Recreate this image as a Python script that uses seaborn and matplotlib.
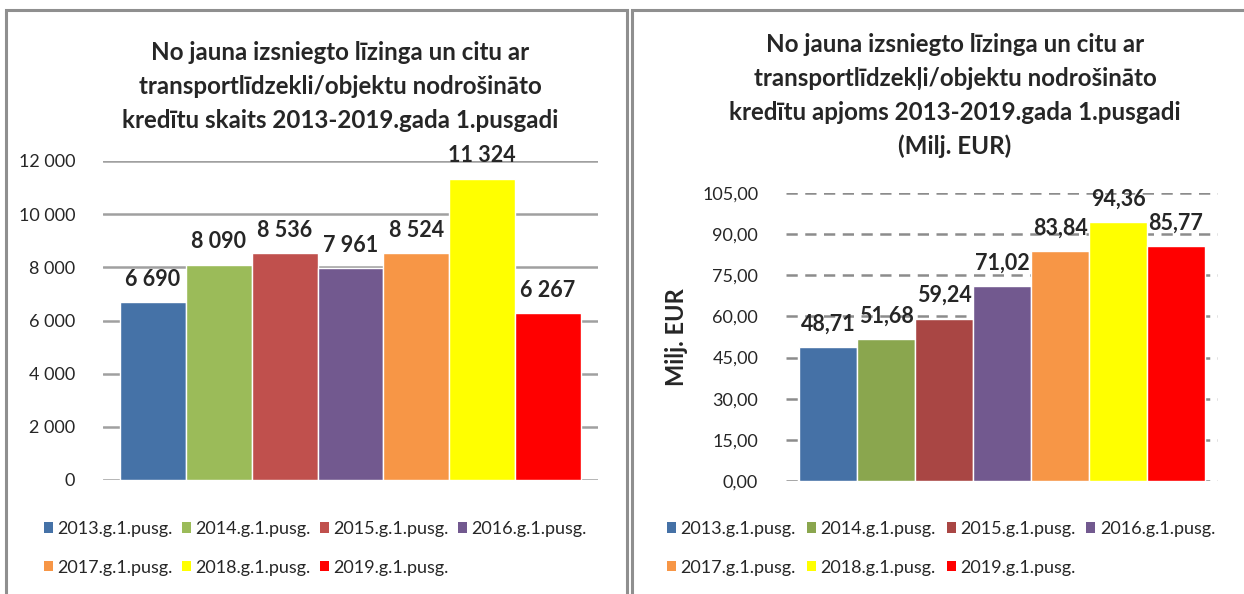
import matplotlib
matplotlib.use("Agg")
import matplotlib.pyplot as plt
from matplotlib.patches import Rectangle, Patch
import seaborn as sns
import pandas as pd

periods = ["2013.g.1.pusg.", "2014.g.1.pusg.", "2015.g.1.pusg.", "2016.g.1.pusg.",
           "2017.g.1.pusg.", "2018.g.1.pusg.", "2019.g.1.pusg."]
counts = [6690, 8090, 8536, 7961, 8524, 11324, 6267]
volumes = [48.71, 51.68, 59.24, 71.02, 83.84, 94.36, 85.77]

colors_left = ["#4572A7", "#9BBB59", "#C0504D", "#72598F", "#F79646", "#FFFF00", "#FF0000"]
colors_right = ["#4571A6", "#8AA64E", "#A94644", "#72598F", "#F79646", "#FFFF00", "#FF0000"]

title_left = ["No jauna izsniegto līzinga un citu ar",
              "transportlīdzekli/objektu nodrošināto",
              "kredītu skaits 2013-2019.gada 1.pusgadi"]
title_right = ["No jauna izsniegto līzinga un citu ar",
               "transportlīdzekļi/objektu nodrošināto",
               "kredītu apjoms 2013-2019.gada 1.pusgadi",
               "(Milj. EUR)"]
ylabel_right = "Milj. EUR"
yticks_left = [0, 2000, 4000, 6000, 8000, 10000, 12000]
yticks_right = [0, 15, 30, 45, 60, 75, 90, 105]

sns.set_style("white")
plt.rcParams["font.family"] = ["Lato", "DejaVu Sans"]

W, H = 1244, 594
fig = plt.figure(figsize=(W / 100, H / 100), dpi=100)

def fx(px):
    return px / W

def fy(py):
    return 1 - py / H

# panel frames
fig.add_artist(Rectangle((fx(6), fy(604)), fx(627) - fx(6), fy(10) - fy(604),
                         transform=fig.transFigure, fill=False, ec="#8f8f8f", lw=2.2))
fig.add_artist(Rectangle((fx(632), fy(604)), fx(1260) - fx(632), fy(10) - fy(604),
                         transform=fig.transFigure, fill=False, ec="#8f8f8f", lw=2.2))

df_l = pd.DataFrame({"period": periods, "value": counts})
df_r = pd.DataFrame({"period": periods, "value": volumes})

TICK_FS = 13
LABEL_FS = 15.5
TITLE_FS = 17.4

# ---------- left chart ----------
axl = fig.add_axes([fx(103), fy(480), fx(598) - fx(103), fy(161) - fy(480)])
sns.barplot(data=df_l, x="period", y="value", hue="period", palette=colors_left,
            saturation=1, width=1.0, legend=False, ax=axl, zorder=3)
axl.set_xlim(-0.758, 6.758)
axl.set_ylim(0, 12000)
axl.set_yticks(yticks_left)
axl.set_yticklabels([f"{v:,}".replace(",", " ") for v in yticks_left])
axl.set_xticks([])
axl.set_xlabel("")
axl.set_ylabel("")
for s in axl.spines.values():
    s.set_visible(False)
axl.yaxis.grid(True, color="#a0a0a0", lw=1.8, zorder=0)
axl.set_axisbelow(True)
axl.tick_params(axis="y", length=0, pad=20, labelsize=TICK_FS)
for c in axl.containers:
    axl.bar_label(c, labels=[f"{v:,.0f}".replace(",", " ") for v in c.datavalues],
                  padding=9, fontsize=LABEL_FS, fontweight="bold")
for i, line in enumerate(title_left):
    fig.text(fx(340), fy(52 + 34.5 * i), line, ha="center", va="center",
             fontsize=TITLE_FS, fontweight="bold")

# ---------- right chart ----------
axr = fig.add_axes([fx(786), fy(481), fx(1218) - fx(786), fy(193) - fy(481)])
sns.barplot(data=df_r, x="period", y="value", hue="period", palette=colors_right,
            saturation=1, width=1.0, legend=False, ax=axr, zorder=3)
axr.set_xlim(-0.724, 6.724)
axr.set_ylim(0, 105)
axr.set_yticks(yticks_right)
axr.set_yticklabels([f"{v:.2f}".replace(".", ",") for v in yticks_right])
axr.set_xticks([])
axr.set_xlabel("")
axr.set_ylabel(ylabel_right, fontsize=17, fontweight="bold", labelpad=10)
for s in axr.spines.values():
    s.set_visible(False)
axr.yaxis.grid(True, color="#8c8c8c", lw=1.8, linestyle=(0, (4.5, 3)), zorder=0)
axr.set_axisbelow(True)
axr.tick_params(axis="y", length=0, pad=20, labelsize=TICK_FS)
for c in axr.containers:
    axr.bar_label(c, labels=[f"{v:.2f}".replace(".", ",") for v in c.datavalues],
                  padding=9, fontsize=LABEL_FS, fontweight="bold")
for i, line in enumerate(title_right):
    fig.text(fx(955), fy(45 + 33.7 * i), line, ha="center", va="center",
             fontsize=TITLE_FS, fontweight="bold")

# ---------- legends ----------
order = [0, 4, 1, 5, 2, 6, 3]  # row-wise fill for a 4-column legend

def add_legend(colors, x, y, colspace):
    handles = [Patch(facecolor=colors[k], edgecolor="none") for k in order]
    labels = [periods[k] for k in order]
    fig.legend(handles, labels, loc="upper left", bbox_to_anchor=(fx(x), fy(y)),
               ncol=4, frameon=False, fontsize=13, handlelength=0.5,
               handleheight=0.5, handletextpad=0.25, columnspacing=colspace,
               labelspacing=1.25, borderpad=0, borderaxespad=0)

add_legend(colors_left, 44, 521, 0.5)
add_legend(colors_right, 667, 521, 0.6)

fig.savefig("out.png", dpi=100)
